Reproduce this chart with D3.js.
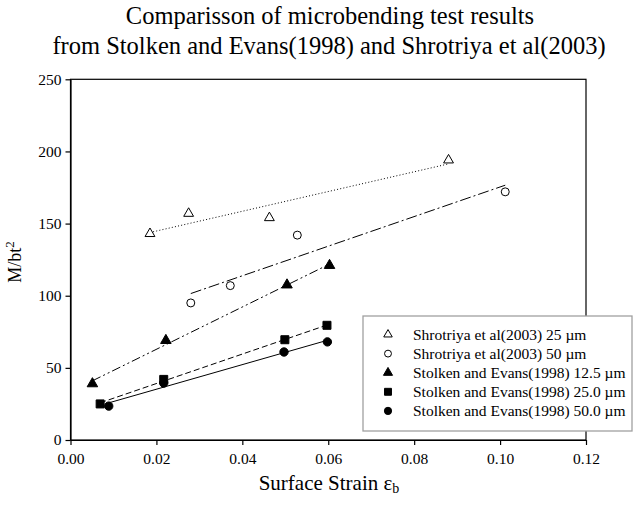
<!DOCTYPE html>
<html><head><meta charset="utf-8">
<script src="https://cdn.jsdelivr.net/npm/d3@7/dist/d3.min.js"></script>
<style>body{margin:0;background:#fff}svg text{font-family:"Liberation Serif",Tinos,"Times New Roman",Times,"DejaVu Serif",serif !important;fill:#000}</style>
</head><body>
<svg id="c" width="634" height="505"></svg>
<script>
const xTicks = [0, 0.02, 0.04, 0.06, 0.08, 0.10, 0.12];
const yTicks = [0, 50, 100, 150, 200, 250];
const seriesNames = ["Shrotriya et al(2003) 25 \u00b5m","Shrotriya et al(2003) 50 \u00b5m","Stolken and Evans(1998) 12.5 \u00b5m","Stolken and Evans(1998) 25.0 \u00b5m","Stolken and Evans(1998) 50.0 \u00b5m"];
const shro25X = [0.0185, 0.0275, 0.0463, 0.0880];
const shro25Y = [143, 157, 154, 194];
const shro50X = [0.0280, 0.0372, 0.0528, 0.1012];
const shro50Y = [95, 107, 142, 172];
const stol125X = [0.0051, 0.0222, 0.0504, 0.0603];
const stol125Y = [39, 69, 107.5, 121];
const stol25X = [0.0069, 0.0217, 0.0499, 0.0597];
const stol25Y = [25, 42, 69.5, 79.5];
const stol50X = [0.0089, 0.0217, 0.0497, 0.0598];
const stol50Y = [23.5, 39.5, 61, 68];

const FONT = '"Liberation Serif", Tinos, "Times New Roman", Times, "DejaVu Serif", serif';
const svg = d3.select("#c");
const X0=70.5, X1=586, Y0=440, Y1=79.3;
const x = d3.scaleLinear().domain([0,0.12]).range([X0,X1]);
const y = d3.scaleLinear().domain([0,250]).range([Y0,Y1]);

// title
svg.append("text").attr("x",330).attr("y",24).attr("text-anchor","middle").attr("font-family",FONT).style("font-size","24.5px").text("Comparisson of microbending test results");
svg.append("text").attr("x",329).attr("y",54).attr("text-anchor","middle").attr("font-family",FONT).style("font-size","24.5px").text("from Stolken and Evans(1998) and Shrotriya et al(2003)");

// frame
svg.append("rect").attr("x",X0).attr("y",Y1).attr("width",X1-X0).attr("height",Y0-Y1).attr("fill","none").attr("stroke","#000").attr("stroke-width",1.2);

const xa = svg.append("g").attr("transform",`translate(0,${Y0})`).call(d3.axisBottom(x).tickValues(xTicks).tickFormat(d3.format(".2f")).tickSize(5).tickSizeOuter(0));
const ya = svg.append("g").attr("transform",`translate(${X0},0)`).call(d3.axisLeft(y).tickValues(yTicks).tickSize(5).tickSizeOuter(0));
[xa,ya].forEach(a=>{a.attr("font-family",FONT).attr("font-size",15.5);a.select(".domain").attr("stroke","#000").attr("stroke-width",1.2);a.selectAll("line").attr("stroke","#000").attr("stroke-width",1.2);a.selectAll("text").attr("fill","#000");});
xa.selectAll("text").attr("dy","1.05em");
ya.selectAll("text").attr("x",-9);

// axis labels
const xl = svg.append("text").attr("x",329).attr("y",490).attr("text-anchor","middle").attr("font-family",FONT).style("font-size","21px");
xl.append("tspan").text("Surface Strain \u03b5");
xl.append("tspan").attr("dy",3).style("font-size","14px").text("b");
const yl = svg.append("text").attr("transform","translate(21,262) rotate(-90)").attr("text-anchor","middle").attr("font-family",FONT).style("font-size","18px");
yl.append("tspan").text("M/bt");
yl.append("tspan").attr("dy",-7).style("font-size","13px").text("2");

const series = [
 {xs:shro25X, ys:shro25Y, sym:d3.symbolTriangle, fill:"none", dash:"1,2.2", size:42},
 {xs:shro50X, ys:shro50Y, sym:d3.symbolCircle, fill:"none", dash:"11,3,2,3", size:50},
 {xs:stol125X, ys:stol125Y, sym:d3.symbolTriangle, fill:"#000", dash:"9,3,2,3,2,3", size:48},
 {xs:stol25X, ys:stol25Y, sym:d3.symbolSquare, fill:"#000", dash:"6,3", size:64},
 {xs:stol50X, ys:stol50Y, sym:d3.symbolCircle, fill:"#000", dash:null, size:55}
];

function fit(xs, ys){
  const mx=d3.mean(xs), my=d3.mean(ys);
  let sxy=0,sxx=0; xs.forEach((v,i)=>{sxy+=(v-mx)*(ys[i]-my);sxx+=(v-mx)*(v-mx);});
  const b=sxy/sxx; return {b, a:my-b*mx};
}
const g = svg.append("g");
series.forEach(s=>{
  const f = fit(s.xs, s.ys);
  const x0=d3.min(s.xs), x1=d3.max(s.xs);
  const ln = g.append("line").attr("x1",x(x0)).attr("y1",y(f.a+f.b*x0)).attr("x2",x(x1)).attr("y2",y(f.a+f.b*x1)).attr("stroke","#000").attr("stroke-width",1);
  if(s.dash) ln.attr("stroke-dasharray",s.dash);
});
series.forEach(s=>{
  g.selectAll(null).data(s.xs.map((v,i)=>[v,s.ys[i]])).enter().append("path")
   .attr("d",d3.symbol().type(s.sym).size(s.size))
   .attr("transform",d=>`translate(${x(d[0])},${y(d[1])})`)
   .attr("fill",s.fill==="none"?"#fff":s.fill).attr("stroke","#000").attr("stroke-width",1);
});

// legend
const lg = svg.append("g");
lg.append("rect").attr("x",363).attr("y",316).attr("width",269).attr("height",115).attr("fill","#fff").attr("stroke","#a0a0a0").attr("stroke-width",1.3);
series.forEach((s,i)=>{
  const ry = 334.5 + i*19.1;
  lg.append("path").attr("d",d3.symbol().type(s.sym).size(s.size*0.75)).attr("transform",`translate(388,${ry})`)
    .attr("fill",s.fill==="none"?"#fff":s.fill).attr("stroke","#000").attr("stroke-width",1);
  lg.append("text").attr("x",413).attr("y",ry+5).attr("font-family",FONT).style("font-size","15.5px").text(seriesNames[i]);
});
</script>
</body></html>
